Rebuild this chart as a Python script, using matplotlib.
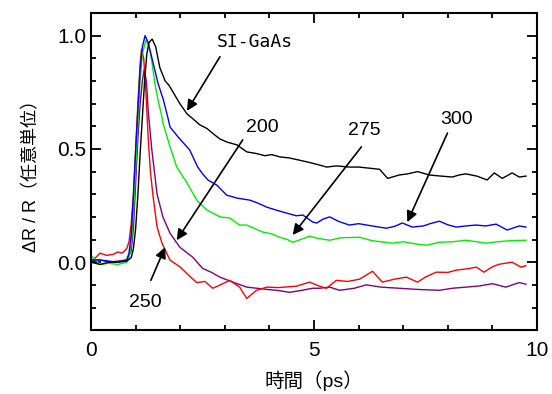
import matplotlib
matplotlib.use("Agg")
from matplotlib import pyplot as plt
from matplotlib.ticker import MultipleLocator

plt.rcParams['font.family'] = ['Liberation Sans', 'Noto Sans CJK JP', 'DejaVu Sans']

# SI-GaAs (black)
t_si = [0, 0.2, 0.4, 0.6, 0.8, 0.9, 0.95, 1.0, 1.05, 1.1, 1.15, 1.2, 1.25, 1.3, 1.37, 1.45,
        1.54, 1.66, 1.75, 1.84, 1.99, 2.15, 2.3, 2.44, 2.6, 2.75, 2.89, 3.05, 3.27, 3.49, 3.7,
        3.9, 4.05, 4.23, 4.45, 4.68, 4.9, 5.1, 5.28, 5.5, 5.79, 6.0, 6.24, 6.47, 6.65, 6.91,
        7.1, 7.32, 7.58, 7.85, 8.1, 8.25, 8.4, 8.65, 8.88, 9.04, 9.22, 9.44, 9.6, 9.75]
v_si = [0.0, -0.01, 0.0, 0.0, 0.005, 0.02, 0.06, 0.15, 0.3, 0.48, 0.64, 0.8, 0.92, 0.97, 0.985, 0.95,
        0.86, 0.80, 0.78, 0.75, 0.70, 0.655, 0.63, 0.606, 0.59, 0.565, 0.544, 0.53, 0.518, 0.487, 0.48,
        0.47, 0.475, 0.465, 0.46, 0.45, 0.44, 0.43, 0.42, 0.425, 0.42, 0.42, 0.415, 0.41, 0.37, 0.385,
        0.39, 0.40, 0.385, 0.38, 0.376, 0.385, 0.39, 0.38, 0.363, 0.394, 0.37, 0.394, 0.376, 0.38]

# 300 (blue)
t_300 = [0, 0.2, 0.4, 0.6, 0.8, 0.85, 0.9, 0.95, 1.0, 1.05, 1.1, 1.15, 1.21, 1.28, 1.39, 1.5,
         1.62, 1.72, 1.77, 1.95, 2.1, 2.21, 2.39, 2.5, 2.62, 2.82, 3.04, 3.27, 3.56, 3.75, 3.94,
         4.15, 4.38, 4.6, 4.75, 4.97, 5.06, 5.2, 5.35, 5.55, 5.79, 6.0, 6.3, 6.62, 6.8, 6.98,
         7.2, 7.45, 7.6, 7.81, 8.0, 8.19, 8.4, 8.63, 8.85, 9.08, 9.33, 9.6, 9.75]
v_300 = [0.01, 0.01, 0.005, 0.0, 0.01, 0.04, 0.12, 0.3, 0.5, 0.68, 0.85, 0.95, 1.0, 0.97, 0.88, 0.79,
         0.717, 0.64, 0.597, 0.553, 0.52, 0.496, 0.42, 0.39, 0.363, 0.34, 0.296, 0.283, 0.274, 0.26, 0.243,
         0.23, 0.217, 0.205, 0.208, 0.177, 0.173, 0.19, 0.2, 0.18, 0.164, 0.17, 0.16, 0.15, 0.158, 0.173,
         0.155, 0.16, 0.17, 0.181, 0.165, 0.155, 0.16, 0.164, 0.16, 0.168, 0.142, 0.16, 0.155]

# 275 (green)
t_275 = [0, 0.2, 0.4, 0.6, 0.8, 0.85, 0.9, 0.95, 1.0, 1.05, 1.1, 1.15, 1.23, 1.3, 1.36, 1.43,
         1.5, 1.59, 1.61, 1.77, 1.92, 2.15, 2.37, 2.6, 2.89, 3.11, 3.33, 3.49, 3.65, 3.85, 4.05,
         4.23, 4.4, 4.52, 4.7, 4.9, 5.06, 5.35, 5.6, 6.02, 6.3, 6.5, 6.76, 7.0, 7.3, 7.52,
         7.81, 8.1, 8.41, 8.65, 8.86, 9.1, 9.4, 9.75]
v_275 = [0.03, -0.01, -0.005, -0.01, 0.0, 0.02, 0.08, 0.22, 0.42, 0.62, 0.8, 0.92, 0.98, 0.95, 0.89, 0.79,
         0.717, 0.64, 0.615, 0.51, 0.42, 0.35, 0.274, 0.23, 0.2, 0.195, 0.164, 0.164, 0.15, 0.133, 0.125,
         0.11, 0.1, 0.088, 0.1, 0.115, 0.106, 0.097, 0.108, 0.11, 0.095, 0.09, 0.084, 0.09, 0.08, 0.075,
         0.088, 0.09, 0.097, 0.09, 0.084, 0.09, 0.095, 0.097]

# 250 (red)
t_250 = [0, 0.1, 0.2, 0.35, 0.5, 0.6, 0.7, 0.8, 0.85, 0.9, 0.95, 1.0, 1.05, 1.1, 1.13, 1.18,
         1.23, 1.28, 1.33, 1.39, 1.48, 1.59, 1.77, 1.99, 2.2, 2.37, 2.55, 2.73, 2.9, 3.11, 3.33,
         3.49, 3.71, 3.94, 4.2, 4.6, 4.9, 5.12, 5.28, 5.5, 5.75, 6.02, 6.31, 6.53, 6.8, 7.07,
         7.32, 7.5, 7.74, 8.0, 8.19, 8.4, 8.64, 8.81, 9.0, 9.15, 9.44, 9.64, 9.75]
v_250 = [0.0, 0.02, 0.04, 0.03, 0.035, 0.045, 0.04, 0.06, 0.09, 0.17, 0.3, 0.5, 0.7, 0.88, 0.94, 0.9,
         0.75, 0.55, 0.4, 0.29, 0.155, 0.084, 0.009, -0.02, -0.06, -0.09, -0.085, -0.115, -0.1, -0.08, -0.11,
         -0.16, -0.124, -0.11, -0.112, -0.106, -0.088, -0.106, -0.115, -0.08, -0.085, -0.075, -0.04, -0.088, -0.075, -0.066,
         -0.088, -0.065, -0.044, -0.045, -0.035, -0.03, -0.022, -0.044, -0.02, -0.009, 0.0, -0.022, -0.015]

# 200 (purple)
t_200 = [0, 0.2, 0.4, 0.6, 0.8, 0.9, 0.95, 1.0, 1.05, 1.1, 1.15, 1.19, 1.24, 1.28, 1.36, 1.48,
         1.61, 1.77, 1.99, 2.28, 2.5, 2.7, 2.89, 3.18, 3.49, 3.94, 4.2, 4.45, 4.7, 4.97, 5.12,
         5.35, 5.57, 5.9, 6.17, 6.5, 6.91, 7.3, 7.81, 8.1, 8.41, 8.7, 9.0, 9.3, 9.6, 9.75]
v_200 = [0.01, 0.01, 0.0, 0.005, 0.01, 0.05, 0.15, 0.35, 0.55, 0.7, 0.8, 0.85, 0.8, 0.67, 0.5, 0.3,
         0.2, 0.128, 0.066, 0.022, -0.027, -0.045, -0.066, -0.088, -0.11, -0.12, -0.125, -0.133, -0.125, -0.115, -0.115,
         -0.11, -0.124, -0.115, -0.1, -0.11, -0.115, -0.12, -0.124, -0.115, -0.11, -0.105, -0.095, -0.11, -0.09, -0.097]

fig = plt.figure(figsize=(5.52, 3.94), dpi=100)
ax = fig.add_axes([0.165, 0.162, 0.808, 0.805])

ax.plot(t_200, v_200, color='#800080', lw=1.0)
ax.plot(t_250, v_250, color='#ff0000', lw=1.0)
ax.plot(t_275, v_275, color='#00ee00', lw=1.0)
ax.plot(t_300, v_300, color='#0000ff', lw=1.0)
ax.plot(t_si, v_si, color='black', lw=1.0)

ax.set_xlim(0, 10)
ax.set_ylim(-0.3, 1.1)
ax.xaxis.set_major_locator(MultipleLocator(5))
ax.xaxis.set_minor_locator(MultipleLocator(1))
ax.yaxis.set_major_locator(MultipleLocator(0.5))
ax.yaxis.set_minor_locator(MultipleLocator(0.1))
ax.tick_params(which='both', direction='in', top=True, right=True, width=1.3, labelsize=15)
ax.tick_params(which='major', length=7)
ax.tick_params(which='minor', length=3.6)
ax.tick_params(axis='x', pad=8)
for s in ax.spines.values():
    s.set_linewidth(1.5)

ax.set_xlabel('時間（ps）', fontsize=14, labelpad=7)
ax.set_ylabel('ΔR / R（任意単位）', fontsize=13, labelpad=12)

arrow = dict(arrowstyle='-|>', color='black', lw=1.2, mutation_scale=16, shrinkA=0, shrinkB=0)
ax.annotate('', xy=(2.15, 0.668), xytext=(2.89, 0.907), arrowprops=arrow)
ax.text(2.82, 0.97, 'SI-GaAs', family='DejaVu Sans Mono', fontsize=13, va='center', ha='left')
ax.annotate('', xy=(1.92, 0.097), xytext=(3.4, 0.54), arrowprops=arrow)
ax.text(3.83, 0.593, '200', fontsize=14, ha='center', va='center')
ax.annotate('', xy=(4.52, 0.12), xytext=(6.06, 0.509), arrowprops=arrow)
ax.text(6.13, 0.58, '275', fontsize=14, ha='center', va='center')
ax.annotate('', xy=(7.09, 0.177), xytext=(7.99, 0.57), arrowprops=arrow)
ax.text(8.19, 0.628, '300', fontsize=14, ha='center', va='center')
ax.annotate('', xy=(1.66, 0.066), xytext=(1.34, -0.08), arrowprops=arrow)
ax.text(1.21, -0.177, '250', fontsize=14, ha='center', va='center')

fig.savefig('out.png', dpi=100)
